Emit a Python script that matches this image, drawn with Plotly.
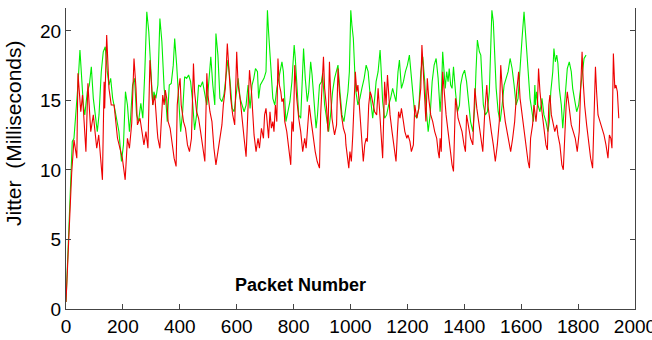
import plotly.graph_objects as go

# Packet number / jitter (ms) vertices
red_x = [0, 5, 10, 15, 20, 28, 38, 42, 52, 58, 66, 70, 77, 87, 96, 108, 115, 128, 134, 136, 143, 151, 159, 169, 181, 198, 208, 216, 223, 231, 239, 246, 251, 260, 274, 281, 288, 295, 305, 312, 321,
         323, 330, 335, 340, 345, 349, 354, 359, 366, 373, 380, 387, 391, 396, 401, 405, 413, 420, 427, 434, 441, 448, 452, 459, 466, 473, 480, 488, 495, 499, 506, 513, 520, 527, 534, 541, 548, 553, 560, 567, 572, 579, 586, 593, 600, 605, 612, 619, 626, 633, 640, 645, 652,
         654, 661, 668, 675, 680, 687, 694, 698, 703, 708, 712, 717, 722, 727, 731, 736, 741, 745, 750, 755, 759, 764, 769, 776, 783, 790, 794, 799, 804, 811, 818, 825, 832, 839, 844, 851, 855, 862, 869, 876, 883, 891, 895, 900, 905, 909, 916, 921, 926, 930, 935, 940, 944, 951, 956, 961, 968, 975, 982,
         984, 989, 994, 998, 1003, 1008, 1012, 1017, 1022, 1026, 1031, 1038, 1045, 1050, 1055, 1059, 1064, 1069, 1073, 1080, 1085, 1092, 1097, 1101, 1108, 1113, 1120, 1125, 1130, 1134, 1139, 1146, 1153, 1160, 1165, 1169, 1174, 1179, 1186, 1191, 1198, 1202, 1209, 1214, 1221, 1226, 1233, 1240, 1247, 1251, 1256, 1261, 1265, 1270, 1275, 1282, 1289, 1296, 1303, 1308, 1312,
         1315, 1319, 1324, 1329, 1336, 1343, 1350, 1357, 1362, 1366, 1369, 1373, 1378, 1385, 1392, 1399, 1404, 1408, 1415, 1422, 1430, 1437, 1444, 1451, 1458, 1465, 1472, 1479, 1483, 1488, 1495, 1502, 1509, 1516, 1523, 1528, 1533, 1537, 1544, 1551, 1558, 1563, 1570, 1577, 1584, 1591, 1596, 1603, 1610, 1617, 1624, 1629, 1633, 1640,
         1645, 1652, 1657, 1661, 1666, 1673, 1680, 1687, 1692, 1697, 1701, 1706, 1711, 1718, 1725, 1729, 1736, 1743, 1748, 1753, 1758, 1762, 1767, 1772, 1776, 1783, 1790, 1797, 1804, 1809, 1814, 1818, 1823, 1830, 1837, 1844, 1851, 1856, 1861, 1865, 1870, 1877, 1884, 1891, 1898, 1905, 1910, 1915, 1919, 1924, 1929, 1933, 1938, 1943]
red_y = [0.5, 3.0, 5.5, 7.8, 9.8, 12.16, 10.85, 16.95, 14.19, 15.39, 12.04, 11.32, 16.23, 12.76, 13.96, 11.56, 12.52, 9.29, 16.35, 14.43, 19.70, 15.87, 14.67, 14.67, 12.28, 10.85, 9.29, 12.28, 11.56, 13.36, 18.02, 15.87, 13.24, 13.72, 11.80, 12.76, 11.56, 17.90, 14.67, 15.39, 12.76,
         12.28, 11.56, 13.24, 15.39, 14.67, 15.75, 15.15, 13.48, 13.00, 11.80, 10.85, 10.25, 14.67, 15.87, 16.59, 14.67, 13.48, 13.00, 11.80, 11.32, 12.28, 17.66, 15.63, 14.19, 13.72, 12.76, 11.56, 10.61, 16.95, 15.39, 14.19, 13.48, 11.56, 10.37, 11.32, 12.28, 13.24, 14.67, 15.87, 19.10, 17.07, 15.15, 13.96, 13.24, 18.50, 16.11, 15.15, 13.48, 12.28, 10.96, 14.67, 17.18, 15.63,
         14.67, 12.52, 11.32, 12.28, 11.56, 13.00, 12.28, 13.96, 14.43, 12.76, 12.28, 14.19, 13.00, 13.48, 12.76, 14.67, 13.48, 18.02, 16.11, 15.63, 14.91, 15.15, 13.48, 12.76, 11.32, 10.37, 13.48, 12.76, 17.54, 15.15, 13.72, 12.76, 11.32, 12.28, 11.56, 13.48, 14.67, 13.48, 12.28, 11.32, 10.61, 10.13, 13.96, 16.35, 18.14, 15.87, 14.43, 12.76, 17.78, 15.63, 13.72, 13.00, 12.52, 13.24, 17.30, 15.63, 13.96, 13.00, 12.52,
         11.80, 10.85, 10.13, 11.32, 10.61, 12.52, 14.67, 17.07, 15.63, 16.11, 14.67, 12.28, 10.61, 11.80, 12.28, 12.04, 14.67, 15.63, 15.39, 14.67, 14.19, 13.96, 15.87, 14.67, 12.76, 10.85, 16.35, 14.67, 16.83, 15.15, 13.96, 12.76, 11.56, 10.61, 12.76, 14.19, 13.72, 14.43, 13.48, 12.76, 12.28, 12.52, 12.04, 11.32, 11.80, 14.67, 13.72, 14.43, 15.87, 18.98, 17.07, 14.67, 13.48, 16.59, 15.15, 13.96, 13.48, 12.76, 12.28, 11.32, 10.85,
         12.28, 11.32, 17.07, 15.63, 13.96, 12.76, 11.32, 10.37, 9.89, 12.76, 15.15, 14.67, 13.72, 13.24, 12.76, 11.80, 11.32, 13.96, 13.00, 12.28, 11.80, 15.87, 14.43, 13.48, 12.28, 11.32, 14.19, 16.11, 14.67, 13.72, 12.76, 11.80, 10.61, 11.80, 13.48, 17.54, 15.87, 14.67, 13.48, 12.76, 11.80, 11.32, 12.28, 13.48, 15.63, 17.07, 15.15, 13.96, 12.76, 11.80, 10.61, 10.13, 12.28, 13.24,
         14.67, 13.48, 14.67, 17.30, 15.63, 14.19, 12.76, 11.80, 11.44, 14.67, 15.39, 13.96, 13.48, 12.76, 13.24, 12.52, 11.80, 10.37, 10.01, 12.76, 14.67, 15.63, 14.91, 13.96, 13.24, 12.76, 12.28, 11.32, 12.76, 15.87, 18.50, 16.35, 14.67, 13.24, 12.04, 10.85, 10.13, 14.67, 17.42, 15.63, 13.96, 13.48, 13.00, 12.52, 11.80, 10.85, 12.52, 12.28, 11.56, 18.38, 15.87, 16.11, 15.63, 13.72]

green_x = [0, 5, 10, 15, 20, 22, 28, 38, 42, 49, 54, 61, 66, 75, 82, 89, 96, 104, 110, 116, 124, 131, 138, 145, 151, 157, 164, 171, 178, 186, 195, 202, 209, 216, 223, 227, 234, 241, 248, 255, 263, 270, 277, 284, 291, 298, 305, 309, 316,
           323, 330, 337, 345, 352, 356, 363, 370, 377, 382, 389, 396, 403, 410, 417, 424, 431, 438, 445, 452, 459, 466, 473, 480, 487, 495, 502, 509, 516, 523, 527, 534, 541, 548, 555, 562, 569, 577, 584, 591, 598, 605, 612, 619, 626, 633, 640, 647,
           654, 660, 666, 673, 677, 683, 689, 696, 703, 708, 712, 717, 722, 727, 734, 741, 748, 755, 759, 764, 769, 773, 780, 787, 794, 802, 806, 811, 818, 825, 830, 835, 841, 848, 853, 860, 865, 872, 879, 884, 891, 898, 902, 909, 916, 923, 930, 937, 944, 951, 956, 963, 970, 977,
           984, 991, 996, 1001, 1005, 1010, 1015, 1019, 1026, 1033, 1040, 1048, 1055, 1062, 1069, 1073, 1078, 1085, 1090, 1097, 1104, 1108, 1113, 1120, 1127, 1134, 1141, 1148, 1155, 1160, 1167, 1172, 1179, 1186, 1193, 1200, 1207, 1212, 1219, 1226, 1233, 1240, 1247, 1254, 1261, 1265, 1273, 1280, 1287, 1294, 1301, 1308,
           1315, 1320, 1324, 1329, 1333, 1338, 1343, 1347, 1352, 1357, 1362, 1369, 1376, 1383, 1387, 1394, 1401, 1408, 1415, 1422, 1430, 1437, 1441, 1446, 1453, 1458, 1462, 1467, 1474, 1481, 1488, 1493, 1497, 1502, 1507, 1512, 1519, 1526, 1533, 1540, 1547, 1554, 1561, 1568, 1575, 1582, 1589, 1596, 1603, 1610, 1615, 1619, 1624, 1631, 1638, 1643,
           1648, 1650, 1654, 1659, 1666, 1673, 1680, 1687, 1694, 1699, 1704, 1711, 1715, 1720, 1725, 1729, 1734, 1741, 1746, 1750, 1758, 1762, 1769, 1776, 1781, 1788, 1795, 1802, 1809, 1816, 1821, 1828]
green_y = [0.5, 3.0, 5.8, 8.2, 10.5, 12.04, 12.28, 14.67, 16.11, 18.62, 17.07, 14.67, 13.96, 15.63, 16.11, 17.42, 15.15, 13.72, 12.76, 13.96, 17.07, 18.50, 18.86, 17.07, 16.11, 16.59, 15.15, 14.43, 13.72, 12.76, 10.61, 11.80, 15.63, 14.67, 12.76, 13.72, 16.11, 16.59, 13.96, 13.48, 14.79, 13.72, 17.07, 21.37, 19.94, 17.07, 14.67, 15.63, 15.15,
           16.11, 20.89, 19.22, 15.87, 14.67, 13.48, 16.11, 16.23, 17.54, 19.46, 17.54, 14.67, 12.76, 14.19, 16.71, 16.59, 16.83, 16.35, 14.91, 12.88, 13.96, 16.11, 15.99, 16.35, 15.63, 14.67, 16.35, 18.14, 16.11, 14.67, 19.82, 18.26, 15.15, 14.91, 15.39, 16.59, 17.90, 16.35, 14.43, 14.19, 15.39, 16.59, 15.15, 14.67, 14.19, 14.67, 16.11, 14.43,
           16.11, 16.59, 17.30, 17.07, 15.15, 16.11, 16.35, 16.59, 17.07, 21.49, 19.94, 18.26, 16.11, 15.15, 14.67, 15.87, 16.59, 17.54, 17.78, 17.07, 14.67, 13.48, 14.19, 14.91, 16.35, 18.98, 18.02, 15.87, 13.96, 13.72, 15.87, 18.74, 16.59, 14.91, 15.63, 17.78, 16.83, 14.67, 13.00, 13.96, 16.11, 16.35, 16.95, 14.67, 13.72, 12.76, 13.96, 15.63, 16.59, 17.07, 17.54, 15.63, 13.96, 13.48,
           14.43, 15.63, 17.07, 21.49, 20.41, 19.46, 17.07, 15.63, 14.67, 15.15, 15.87, 16.59, 17.54, 17.07, 15.39, 14.67, 13.72, 15.15, 16.35, 17.07, 18.62, 17.07, 14.91, 13.72, 13.96, 14.67, 15.15, 15.87, 15.39, 14.91, 17.07, 17.90, 15.87, 16.35, 17.07, 17.54, 18.26, 17.07, 15.15, 13.96, 13.72, 14.43, 17.07, 18.14, 16.35, 14.67, 12.76, 13.96, 16.35, 17.54, 18.02, 16.59,
           14.19, 15.87, 18.50, 16.83, 15.87, 17.07, 16.35, 17.30, 16.11, 15.87, 17.42, 15.63, 14.19, 14.67, 16.11, 16.83, 17.18, 16.35, 14.67, 13.48, 12.76, 14.67, 17.07, 19.34, 18.50, 18.26, 16.59, 14.67, 13.96, 14.19, 15.63, 18.26, 21.49, 20.65, 18.26, 15.87, 14.19, 13.48, 14.67, 16.11, 16.59, 17.07, 18.02, 17.30, 16.11, 14.67, 15.15, 17.78, 19.46, 21.37, 19.94, 18.50, 17.07, 15.15, 14.19, 13.48,
           16.11, 14.67, 15.63, 14.67, 14.19, 15.15, 13.96, 13.48, 12.76, 13.48, 15.63, 17.07, 18.74, 17.78, 18.26, 17.66, 15.87, 14.67, 13.00, 13.96, 16.35, 17.30, 17.78, 17.07, 15.87, 15.15, 14.19, 14.67, 15.87, 17.30, 18.02, 18.26]

x_ticks = [0, 200, 400, 600, 800, 1000, 1200, 1400, 1600, 1800, 2000]
y_ticks = [0, 5, 10, 15, 20]

FONT = "Liberation Sans, Arial, sans-serif"

fig = go.Figure()
fig.add_trace(go.Scatter(x=green_x, y=green_y, mode="lines",
                         line=dict(color="#00ee00", width=1.1), hoverinfo="skip"))
fig.add_trace(go.Scatter(x=red_x, y=red_y, mode="lines",
                         line=dict(color="#ee0000", width=1.1), hoverinfo="skip"))

fig.update_layout(
    width=652, height=340,
    margin=dict(l=66, r=17, t=8, b=31, autoexpand=False),
    paper_bgcolor="white", plot_bgcolor="white",
    showlegend=False,
    font=dict(family=FONT, size=19, color="black"),
    xaxis=dict(range=[0, 2000], tickvals=x_ticks, ticks="inside", ticklen=5,
               tickcolor="#444", showline=True, linecolor="#444", linewidth=1,
               mirror=False, showgrid=False, zeroline=False, automargin=False,
               ticklabeloverflow="allow",
               tickfont=dict(family=FONT, size=19, color="black")),
    yaxis=dict(range=[0, 21.65], tickvals=y_ticks, ticks="inside", ticklen=5,
               tickcolor="#444", showline=True, linecolor="#444", linewidth=1,
               mirror="ticks", showgrid=False, zeroline=False, automargin=False,
               tickfont=dict(family=FONT, size=19, color="black")),
    annotations=[
        dict(text="<b>Packet Number</b>", xref="paper", yref="paper",
             x=0.413, y=0.081, showarrow=False, xanchor="center", yanchor="middle",
             font=dict(family=FONT, size=18, color="black")),
        dict(text="Jitter  (Milliseconds)", xref="paper", yref="paper",
             x=(13 - 66) / 569, y=(309 - 133) / 301, textangle=-90,
             showarrow=False, xanchor="center", yanchor="middle",
             font=dict(family=FONT, size=21, color="black")),
    ],
)

fig.write_html("out.html")
